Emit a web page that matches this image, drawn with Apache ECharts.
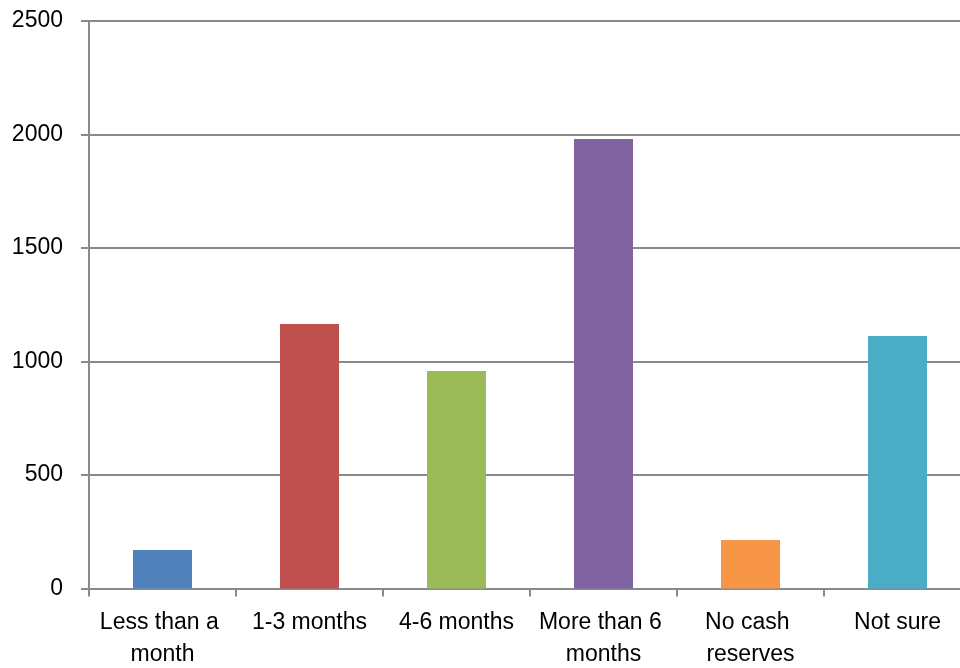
<!DOCTYPE html>
<html>
<head>
<meta charset="utf-8">
<script src="https://cdn.jsdelivr.net/npm/echarts@6/dist/echarts.min.js"></script>
<style>
html,body{margin:0;padding:0;background:#fff;}
#chart{width:960px;height:668px;}
</style>
</head>
<body>
<div id="chart"></div>
<script>
var categories = ["Less than a month", "1-3 months", "4-6 months", "More than 6 months", "No cash reserves", "Not sure"];
var values = [170, 1165, 958, 1980, 214, 1112];
var colors = ["#4F81BD", "#C0504D", "#9BBB59", "#8064A2", "#F79646", "#4BACC6"];
var yTicks = [0, 500, 1000, 1500, 2000, 2500];

var chart = echarts.init(document.getElementById('chart'), null, {renderer: 'canvas'});
var fontFam = '"Liberation Sans", Arial, sans-serif';
chart.setOption({
  animation: false,
  backgroundColor: '#ffffff',
  grid: {left: 89, width: 882, top: 21, height: 567.5, containLabel: false, outerBoundsMode: 'none'},
  xAxis: {
    type: 'category',
    data: categories,
    axisLine: {show: true, lineStyle: {color: '#8a8a8a', width: 2}},
    axisTick: {show: true, length: 8, alignWithLabel: false, lineStyle: {color: '#8a8a8a', width: 2}},
    axisLabel: {
      interval: 0, color: '#000', fontSize: 23, fontFamily: fontFam,
      margin: 18, lineHeight: 32, width: 146, overflow: 'break', align: 'center'
    },
    splitLine: {show: false}
  },
  yAxis: {
    type: 'value',
    min: yTicks[0], max: yTicks[yTicks.length - 1], interval: 500,
    axisLine: {show: true, lineStyle: {color: '#8a8a8a', width: 2}},
    axisTick: {show: true, length: 8, lineStyle: {color: '#8a8a8a', width: 2}},
    axisLabel: {color: '#000', fontSize: 23, fontFamily: fontFam, margin: 26,
      formatter: function (v) { return String(v); }},
    splitLine: {show: true, lineStyle: {color: '#8a8a8a', width: 2}}
  },
  series: [{
    type: 'bar',
    barWidth: 59,
    data: values.map(function (v, i) { return {value: v, itemStyle: {color: colors[i]}}; })
  }]
});
</script>
</body>
</html>
